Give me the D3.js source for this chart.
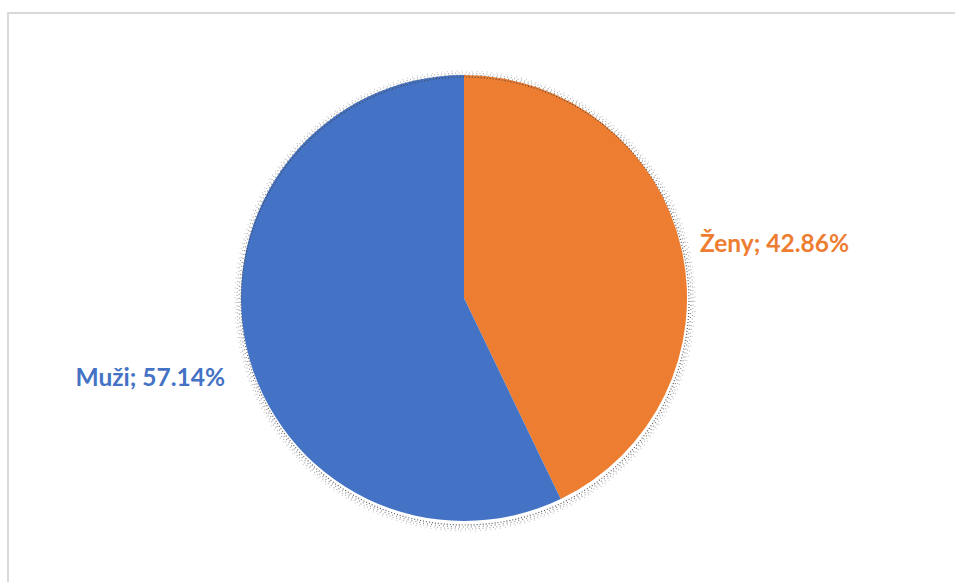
<!DOCTYPE html>
<html>
<head>
<meta charset="utf-8">
<script src="https://cdn.jsdelivr.net/npm/d3@7"></script>
<style>
  html, body { margin: 0; padding: 0; background: #fff; overflow: hidden; }
  svg { display: block; }
</style>
</head>
<body>
<script>
// Gender split, percentages
const categories = ["Ženy", "Muži"];
const values = [42.86, 57.14];
const colors = ["#ED7D31", "#4472C4"];

const W = 955, H = 582;
const cx = 464, cy = 298, r = 223;

const svg = d3.select("body").append("svg")
  .attr("width", W).attr("height", H);

// chart area frame (continues past the window edges)
svg.append("rect")
  .attr("x", 8).attr("y", 13)
  .attr("width", W + 20).attr("height", H + 20)
  .attr("fill", "#fff")
  .attr("stroke", "#d9d9d9")
  .attr("stroke-width", 2);

const data = categories.map((c, i) => ({ name: c, value: values[i], color: colors[i] }));

const pie = d3.pie().sort(null).value(d => d.value);
const arcs = pie(data);
const arc = d3.arc().innerRadius(0).outerRadius(r);

const g = svg.append("g").attr("transform", `translate(${cx},${cy})`);

// grainy drop shadow around the pie
const shadow = svg.append("g").attr("transform", `translate(${cx + 1},${cy + 3})`);
[[1, "#444", 0.9, "1 2"], [3, "#666", 0.8, "1 3"], [5, "#888", 0.7, "1 2.5"], [7, "#aaa", 0.6, "1 4"]]
  .forEach(([o, c, op, dash]) => {
    shadow.append("circle")
      .attr("r", r + o)
      .attr("fill", "none")
      .attr("stroke", c)
      .attr("stroke-opacity", op)
      .attr("stroke-width", 1.2)
      .attr("stroke-dasharray", dash);
  });

g.selectAll("path.slice")
  .data(arcs)
  .join("path")
  .attr("class", "slice")
  .attr("d", arc)
  .attr("fill", d => d.data.color);

// outside-end data labels
const labelOffset = { "Ženy": [0, 2], "Muži": [-3, 28] };
g.selectAll("text.lbl")
  .data(arcs)
  .join("text")
  .attr("class", "lbl")
  .each(function (d) {
    const a = (d.startAngle + d.endAngle) / 2;
    const R = r + 19;
    const [ox, oy] = labelOffset[d.data.name];
    const x = Math.sin(a) * R + ox;
    const y = -Math.cos(a) * R + oy;
    d3.select(this)
      .attr("x", x)
      .attr("y", y)
      .attr("text-anchor", Math.sin(a) >= 0 ? "start" : "end");
  })
  .attr("dominant-baseline", "middle")
  .attr("font-family", "Lato, 'Open Sans', sans-serif")
  .attr("font-weight", "bold")
  .attr("font-size", 24.5)
  .attr("fill", d => d.data.color)
  .text(d => `${d.data.name}; ${d.data.value.toFixed(2)}%`);
</script>
</body>
</html>
